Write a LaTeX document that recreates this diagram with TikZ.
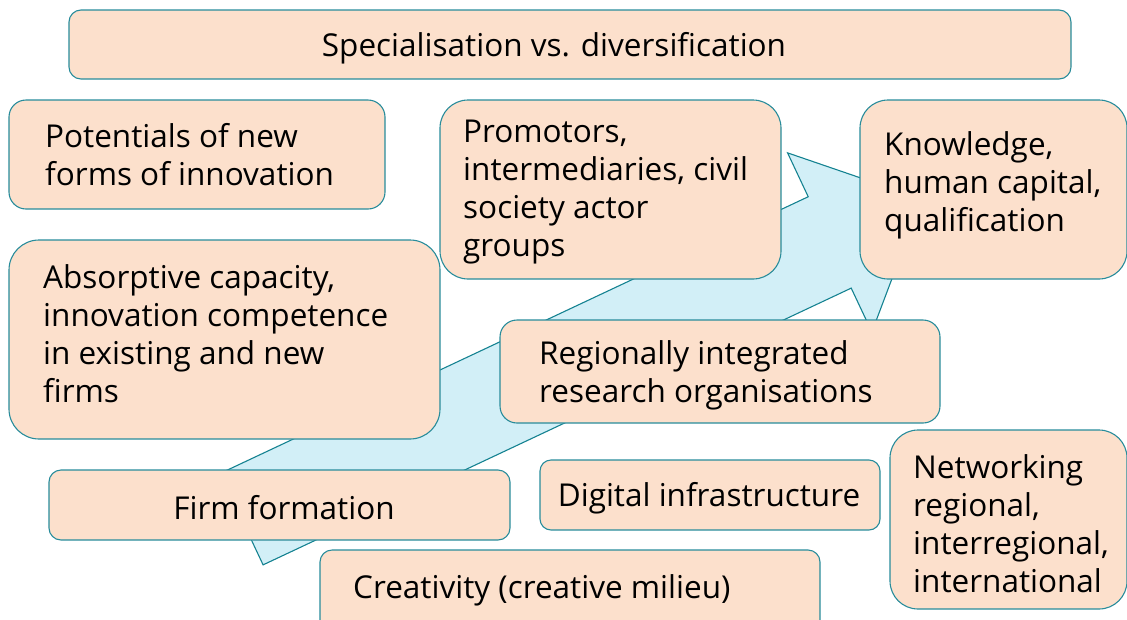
\documentclass[tikz,border=0pt]{standalone}
\usepackage{fontspec}
\setmainfont{Open Sans}
\usetikzlibrary{calc}
\definecolor{boxfill}{RGB}{252,224,204}
\definecolor{boxline}{RGB}{40,140,155}
\definecolor{arrfill}{RGB}{210,239,247}
\definecolor{arrline}{RGB}{20,130,145}
\tikzset{
  box/.style={draw=boxline, fill=boxfill, line width=1.1pt, inner sep=0pt},
  txt/.style={inner sep=0pt, align=left, font=\fontsize{31.5}{38}\selectfont, text=black},
  bigarrow/.style={draw=arrline, fill=arrfill, line width=1.1pt, line join=miter}
}
\newcommand{\mybox}[6]{% name, x1, y1, x2, y2, radius
  \node[box, rounded corners=#6pt, minimum width={(#4-#2)*1pt}, minimum height={(#5-#3)*1pt}] (#1) at ({(#2+#4)/2},{(#3+#5)/2}) {};}
\begin{document}
\begin{tikzpicture}[x=1pt,y=-1pt]
\useasboundingbox (0,0) rectangle (1127,619);
\clip (0,0) rectangle (1127,619);
% big arrow
\begin{scope}[shift={(922,199)}, rotate=25.2]
  \draw[bigarrow] (0,0) -- (-102,99) -- (-102,50.5) -- (-752,50.5) -- (-752,-50.5) -- (-102,-50.5) -- (-102,-99) -- cycle;
\end{scope}
% boxes
\mybox{spec}{69}{10}{1071}{79}{12}
\mybox{pot}{9}{100}{385}{209}{17}
\mybox{prom}{440}{100}{781}{279}{28}
\mybox{know}{860}{100}{1127}{279}{28}
\mybox{abs}{9}{240}{440}{439}{30}
\mybox{reg}{500}{320}{940}{423}{17}
\mybox{firm}{49}{470}{510}{540}{12}
\mybox{dig}{540}{460}{880}{530}{11}
\mybox{crea}{320}{550}{820}{640}{12}
\mybox{net}{890}{430}{1127}{609}{28}
% texts
\node[txt] (tspec) at (554,48) {Specialisation vs. diversification};
\node[txt, anchor=west] (tpot) at (45,155) {Potentials of new\\forms of innovation};
\node[txt, anchor=west] (tprom) at (463,192.5) {Promotors,\\intermediaries, civil\\society actor\\groups};
\node[txt, anchor=west] (tknow) at (884,185.5) {Knowledge,\\human capital,\\qualification};
\node[txt, anchor=west] (tabs) at (43,333.5) {Absorptive capacity,\\innovation competence\\in existing and new\\firms};
\node[txt, anchor=west] (treg) at (539,375) {Regionally integrated\\research organisations};
\node[txt] (tfirm) at (284,508) {Firm formation};
\node[txt] (tdig) at (709,498) {Digital infrastructure};
\node[txt, anchor=west] (tcrea) at (353,590) {Creativity (creative milieu)};
\node[txt, anchor=west] (tnet) at (913,524) {Networking\\regional,\\interregional,\\international};
\end{tikzpicture}
\end{document}
